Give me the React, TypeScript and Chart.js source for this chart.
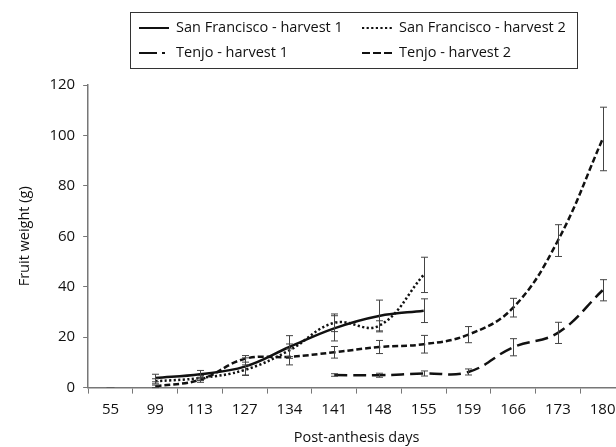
import React, { useEffect, useRef } from "react";
import { Chart, registerables } from "chart.js";

Chart.register(...registerables);

// ---- data ----
const days = ["55", "99", "113", "127", "134", "141", "148", "155", "159", "166", "173", "180"];

const sfHarvest1 = [null, 3.8, 5.3, 8.3, 16.1, 23.5, 28.4, 30.5, null, null, null, null];
const sfHarvest1Err = [null, 1.5, 1.5, 3.5, 4.5, 5.0, 6.3, 4.7, null, null, null, null];

const sfHarvest2 = [null, 2.5, 3.8, 7.0, 14.8, 25.7, 24.5, 44.7, null, null, null, null];
const sfHarvest2Err = [null, 1.0, 1.0, 2.0, 2.5, 3.5, 2.0, 7.0, null, null, null, null];

const tenjoHarvest1 = [null, 0.5, 3.1, 11.4, 12.2, 14.0, 16.1, 17.2, 21.0, 31.7, 58.3, 98.6];
const tenjoHarvest1Err = [null, 0.5, 1.0, 1.3, 3.2, 2.3, 2.6, 3.5, 3.2, 3.7, 6.3, 12.6];

const tenjoHarvest2 = [null, null, null, null, null, 5.0, 4.9, 5.6, 6.2, 16.0, 21.7, 38.6];
const tenjoHarvest2Err = [null, null, null, null, null, 0.5, 0.8, 1.0, 1.2, 3.4, 4.2, 4.2];

const startPoint = [0, null, null, null, null, null, null, null, null, null, null, null];

const yTicks = [0, 20, 40, 60, 80, 100, 120];

const FONT = "'Open Sans', 'Noto Sans', sans-serif";

const errorBarPlugin = {
  id: "errorBars",
  afterDatasetsDraw(chart: any) {
    const ctx = chart.ctx;
    const y = chart.scales.y;
    ctx.save();
    ctx.strokeStyle = "#444";
    ctx.lineWidth = 1;
    chart.data.datasets.forEach((ds: any, di: number) => {
      if (!ds.errors) return;
      const meta = chart.getDatasetMeta(di);
      ds.data.forEach((v: number | null, i: number) => {
        const e = ds.errors[i];
        if (v == null || e == null) return;
        const px = Math.round(meta.data[i].x) + 0.5;
        const top = y.getPixelForValue(v + e);
        const bot = y.getPixelForValue(v - e);
        ctx.beginPath();
        ctx.moveTo(px, top);
        ctx.lineTo(px, bot);
        ctx.moveTo(px - 3.5, top);
        ctx.lineTo(px + 3.5, top);
        ctx.moveTo(px - 3.5, bot);
        ctx.lineTo(px + 3.5, bot);
        ctx.stroke();
      });
    });
    ctx.restore();
  },
};

const boxLegendPlugin = {
  id: "boxLegend",
  afterDraw(chart: any) {
    const ctx = chart.ctx;
    ctx.save();
    ctx.strokeStyle = "#333";
    ctx.lineWidth = 1;
    ctx.strokeRect(130.5, 12.5, 447, 56);
    ctx.font = `14.5px ${FONT}`;
    ctx.textBaseline = "middle";
    ctx.fillStyle = "#111";
    const items = chart.data.datasets.filter((d: any) => d.legendDash);
    const cols = [139, 362];
    const rows = [28, 53];
    items.forEach((ds: any, k: number) => {
      const x = cols[k % 2];
      const yy = rows[Math.floor(k / 2)];
      ctx.strokeStyle = "#111";
      ctx.lineWidth = 2;
      ctx.setLineDash(ds.legendDash);
      ctx.beginPath();
      ctx.moveTo(x, yy);
      ctx.lineTo(x + 30, yy);
      ctx.stroke();
      ctx.setLineDash([]);
      ctx.fillText(ds.label, x + 37, yy);
    });
    ctx.restore();
  },
};

export default function App() {
  const ref = useRef<HTMLCanvasElement>(null);

  useEffect(() => {
    if (!ref.current) return;
    const common = {
      fill: false,
      pointRadius: 0,
      pointHoverRadius: 0,
      borderColor: "#111",
      borderWidth: 2.5,
      tension: 0.4,
      spanGaps: false,
    };
    const chart = new Chart(ref.current, {
      type: "line",
      data: {
        labels: days,
        datasets: [
          {
            ...common,
            label: "San Francisco - harvest 1",
            data: sfHarvest1,
            errors: sfHarvest1Err,
            legendDash: [1, 0],
          },
          {
            ...common,
            label: "San Francisco - harvest 2",
            data: sfHarvest2,
            errors: sfHarvest2Err,
            borderDash: [2.2, 2.4],
            legendDash: [2.2, 2.4],
          },
          {
            ...common,
            label: "Tenjo - harvest 1",
            data: tenjoHarvest1,
            errors: tenjoHarvest1Err,
            borderDash: [6, 3],
            legendDash: [18, 5, 3, 20],
          },
          {
            ...common,
            label: "Tenjo - harvest 2",
            data: tenjoHarvest2,
            errors: tenjoHarvest2Err,
            borderDash: [13, 6],
            legendDash: [8, 3],
          },
          {
            label: "start",
            data: startPoint,
            showLine: false,
            pointStyle: "line",
            pointRadius: 4,
            pointHoverRadius: 4,
            borderColor: "#444",
            borderWidth: 1,
          },
        ] as any,
      },
      options: {
        animation: false,
        responsive: false,
        events: [],
        layout: { padding: { top: 85, left: 8, right: 5, bottom: 0 } },
        plugins: {
          legend: { display: false },
          tooltip: { enabled: false },
          title: { display: false },
        },
        scales: {
          x: {
            type: "category",
            offset: true,
            grid: {
              offset: true,
              drawOnChartArea: false,
              drawTicks: true,
              tickLength: 6,
              color: "#777",
              lineWidth: 1,
            },
            border: { display: true, color: "#777", width: 1.5 },
            ticks: {
              color: "#111",
              font: { family: FONT, size: 15 },
              padding: 7,
              maxRotation: 0,
              autoSkip: false,
            },
            title: {
              display: true,
              text: "Post-anthesis days",
              color: "#111",
              font: { family: FONT, size: 14.5 },
              padding: { top: 4, bottom: 0 },
            },
          },
          y: {
            min: 0,
            max: 120,
            afterBuildTicks: (axis: any) => {
              axis.ticks = yTicks.map((v) => ({ value: v }));
            },
            grid: {
              drawOnChartArea: false,
              drawTicks: true,
              tickLength: 5,
              color: "#777",
              lineWidth: 1,
            },
            border: { display: true, color: "#777", width: 1.5 },
            ticks: {
              color: "#111",
              font: { family: FONT, size: 15 },
              padding: 8,
            },
            title: {
              display: true,
              text: "Fruit weight (g)",
              color: "#111",
              font: { family: FONT, size: 14.5 },
              padding: 8,
            },
          },
        },
      },
      plugins: [errorBarPlugin, boxLegendPlugin],
    } as any);
    return () => chart.destroy();
  }, []);

  return (
    <div
      style={{
        position: "fixed",
        left: 0,
        top: 0,
        width: 616,
        height: 447,
        overflow: "hidden",
        background: "#fff",
      }}
    >
      <canvas ref={ref} width={630} height={447} style={{ width: 630, height: 447, display: "block" }} />
    </div>
  );
}
